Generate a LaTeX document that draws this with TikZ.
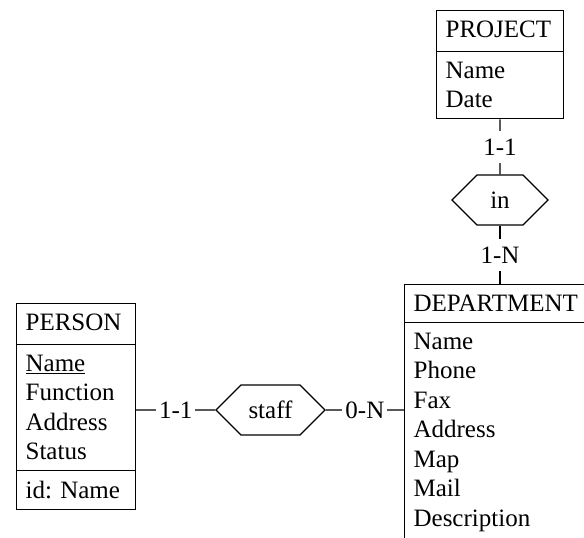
\documentclass[tikz,border=0pt]{standalone}
\usepackage{fontspec}
\setmainfont{Liberation Serif}
\frenchspacing
\usetikzlibrary{shapes.multipart,shapes.symbols,positioning}
\tikzset{entity/.style={
    draw,
    rectangle split,
    rectangle split parts=#1,
    align=left,
    inner xsep=9pt, inner ysep=10pt,
    anchor=north west
  },
  entity/.default=2,
  relation/.style={
    draw,
    signal, signal to=east and west,
    signal pointer angle=90,
    minimum height=50pt,
    inner sep=0pt
  },
  card/.style={fill=white, inner xsep=3pt, inner ysep=8pt}
}

\begin{document}
\begin{tikzpicture}[x=1pt, y=-1pt, line width=1.2pt, font=\fontsize{25}{29.5}\selectfont]
    \useasboundingbox (0,0) rectangle (584,538);
    \clip (0,0) rectangle (584,538);
    \node[entity, text width=109pt] (project) at (436,10)
        {PROJECT\rule[-3pt]{0pt}{3pt} \nodepart{two} Name\\Date};
    \node[relation, minimum width=96pt] (in) at (500,200) {in};
    \node[entity, text width=174pt] (department) at (404,284)
        {DEPARTMENT \nodepart{two} Name\\Phone\\Fax\\Address\\Map\\Mail\\Description\rule[-20pt]{0pt}{20pt}};
    \node[entity=3, text width=101pt] (person) at (16,303)
        {PERSON\rule[-3pt]{0pt}{3pt} \nodepart{two} \underline{Name}\\Function\\Address\\Status \nodepart{three} id: Name};
    \node[relation, minimum width=109pt] (staff) at (270.5,410) {staff};

    \draw (project) -- node[card] {1-1} (in);
    \draw (in) -- node[card] {1-N} (in |- department.north);
    \draw (staff.west -| person.east) -- node[card] {1-1} (staff);
    \draw (staff) -- node[card] {0-N} (staff -| department.west);
\end{tikzpicture}
\end{document}
